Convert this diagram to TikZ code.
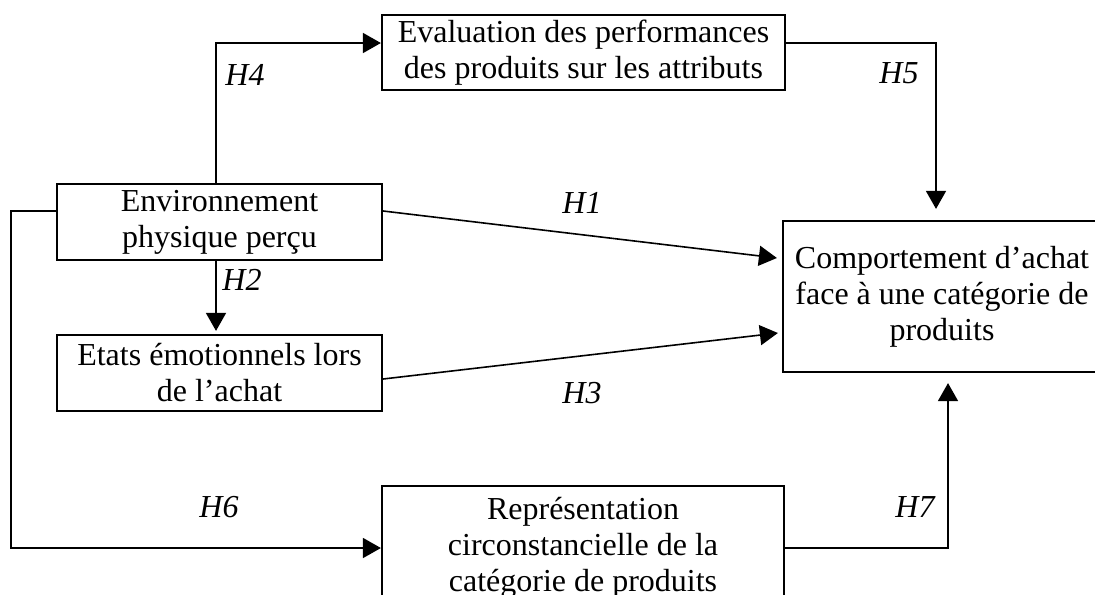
\documentclass[tikz,border=0pt]{standalone}
\usepackage{fontspec}
\setmainfont{Liberation Serif}
\usetikzlibrary{arrows.meta, calc}

\begin{document}
\begin{tikzpicture}[x=0.5pt,y=-0.5pt,>={Triangle[length=9pt,width=10pt]},
		box/.style={draw,rectangle,line width=1.1pt,align=center,inner sep=0pt,font=\fontsize{16}{18}\selectfont},
		link/.style={->,line width=0.8pt},
		hyp/.style={font=\fontsize{16}{18}\selectfont\itshape}]
	\useasboundingbox (0,0) rectangle (1095,594);
	\clip (0,0) rectangle (1095,594);
	\node[box,minimum width=201.5pt,minimum height=37.5pt] (eval) at (583.5,52.5) {Evaluation des performances\\des produits sur les attributs};
	\node[box,minimum width=162.5pt,minimum height=38pt] (env) at (219.5,222) {Environnement\\physique perçu};
	\node[box,minimum width=162.5pt,minimum height=38pt] (etats) at (219.5,373) {Etats émotionnels lors\\de l’achat};
	\node[box,minimum width=201pt,minimum height=62pt] (rep) at (583,548) {Représentation\\circonstancielle de la\\catégorie de produits};
	\node[box,minimum width=159pt,minimum height=75.5pt] (comp) at (942,296.5) {Comportement d’achat\\face à une catégorie de\\produits};
	\draw[link] ([xshift=-1.75pt]env.north) |- ($(eval.west)+(0,-9.5)$);
	\draw[link] ($(eval.east)+(0,-9.5)$) -| ([xshift=-3pt,yshift=5.5pt]comp.north);
	\draw[link] ([yshift=5.5pt]env.east) -- ([xshift=-2.5pt,yshift=19.25pt]comp.west);
	\draw[link] ([xshift=-1.75pt]env.south) -- ([xshift=-1.75pt,yshift=1.5pt]etats.north);
	\draw[link] ([yshift=-3pt]etats.east) -- ([xshift=-2pt,yshift=-18.25pt]comp.west);
	\draw[link] ([yshift=5.5pt]env.west) -- ++(-45,0) |- (rep.west);
	\draw[link] (rep.east) -| ([xshift=3pt,yshift=-5pt]comp.south);
	% hypotheses
	\node[hyp] (h4) at (245,75) {H4};
	\node[hyp] (h5) at (899,73) {H5};
	\node[hyp] (h1) at (582,203) {H1};
	\node[hyp] (h2) at (242,280) {H2};
	\node[hyp] (h3) at (582,393) {H3};
	\node[hyp] (h6) at (219,507) {H6};
	\node[hyp] (h7) at (915,507) {H7};
\end{tikzpicture}
\end{document}
